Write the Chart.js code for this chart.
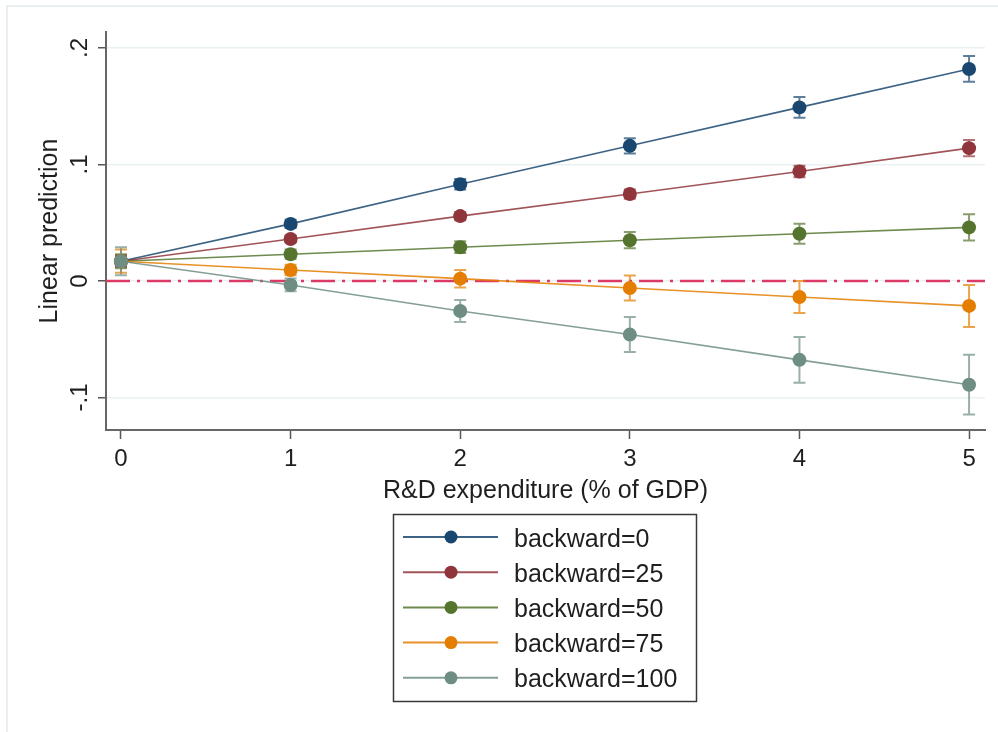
<!DOCTYPE html>
<html>
<head>
<meta charset="utf-8">
<title>Linear prediction by R&amp;D expenditure</title>
<script src="https://cdn.jsdelivr.net/npm/chart.js@4.4.1/dist/chart.umd.min.js"></script>
<style>
  html, body { margin: 0; padding: 0; background: #ffffff; }
  #chart { display: block; }
</style>
</head>
<body>
<canvas id="chart" width="998" height="732"></canvas>
<script>
// ============================================
// Margins plot — linear prediction vs R&D (Chart.js)
// ============================================

const xValues = [0, 1, 2, 3, 4, 5];
const xTickLabels = ['0', '1', '2', '3', '4', '5'];
const yTicks = [-0.1, 0, 0.1, 0.2];
const yTickLabels = ['-.1', '0', '.1', '.2'];
const seriesLabels = ['backward=0', 'backward=25', 'backward=50', 'backward=75', 'backward=100'];

// point estimates and half-width of the confidence interval
const back0 = [0.017, 0.049, 0.083, 0.116, 0.149, 0.182];
const back0Ci = [0.004, 0.0035, 0.0045, 0.0065, 0.009, 0.011];
const back25 = [0.017, 0.036, 0.0557, 0.0746, 0.094, 0.114];
const back25Ci = [0.005, 0.003, 0.0035, 0.004, 0.005, 0.007];
const back50 = [0.017, 0.023, 0.029, 0.035, 0.0405, 0.046];
const back50Ci = [0.006, 0.004, 0.005, 0.007, 0.0086, 0.0112];
const back75 = [0.017, 0.0094, 0.002, -0.006, -0.0137, -0.0214];
const back75Ci = [0.010, 0.0045, 0.0075, 0.0107, 0.0137, 0.018];
const back100 = [0.017, -0.0034, -0.0257, -0.046, -0.0677, -0.089];
const back100Ci = [0.012, 0.0055, 0.0094, 0.015, 0.0197, 0.0257];

const refLineValue = 0;

const seriesValues = [back0, back25, back50, back75, back100];
const seriesCi = [back0Ci, back25Ci, back50Ci, back75Ci, back100Ci];
const markerColors = ['#1a476f', '#90353b', '#55752f', '#e37e00', '#6e8e84'];
const lineColors = ['rgba(26,71,111,0.85)', 'rgba(144,53,59,0.85)', 'rgba(85,117,47,0.85)', 'rgba(227,126,0,0.85)', 'rgba(110,142,132,0.85)'];
const ciColors = ['rgba(26,71,111,0.7)', 'rgba(144,53,59,0.7)', 'rgba(85,117,47,0.7)', 'rgba(227,126,0,0.7)', 'rgba(110,142,132,0.7)'];

const FONT = "'Liberation Sans', Arial, Helvetica, sans-serif";
const TEXT = '#1f1f1f';

const stataDecor = {
  id: 'stataDecor',
  beforeDraw(chart) {
    const ctx = chart.ctx;
    ctx.save();
    ctx.strokeStyle = '#e9eff1';
    ctx.lineWidth = 2;
    ctx.beginPath();
    ctx.moveTo(7, 732);
    ctx.lineTo(7, 6);
    ctx.lineTo(998, 6);
    ctx.stroke();
    ctx.restore();
  },
  beforeDatasetsDraw(chart) {
    const ctx = chart.ctx;
    const area = chart.chartArea;
    const xs = chart.scales.x;
    const ys = chart.scales.y;

    // reference line at zero
    const y0 = ys.getPixelForValue(refLineValue);
    ctx.save();
    ctx.strokeStyle = '#dc3a66';
    ctx.lineWidth = 2.4;
    ctx.setLineDash([24, 7, 3, 7]);
    ctx.beginPath();
    ctx.moveTo(area.left, y0);
    ctx.lineTo(area.right, y0);
    ctx.stroke();
    ctx.restore();

    // confidence interval caps
    ctx.save();
    ctx.lineWidth = 2;
    seriesValues.forEach((vals, s) => {
      ctx.strokeStyle = ciColors[s];
      vals.forEach((v, i) => {
        const px = xs.getPixelForValue(xValues[i]);
        const top = ys.getPixelForValue(v + seriesCi[s][i]);
        const bot = ys.getPixelForValue(v - seriesCi[s][i]);
        ctx.beginPath();
        ctx.moveTo(px, top);
        ctx.lineTo(px, bot);
        ctx.moveTo(px - 6, top);
        ctx.lineTo(px + 6, top);
        ctx.moveTo(px - 6, bot);
        ctx.lineTo(px + 6, bot);
        ctx.stroke();
      });
    });
    ctx.restore();
  },
  afterDraw(chart) {
    const ctx = chart.ctx;
    const area = chart.chartArea;
    const xs = chart.scales.x;
    const ys = chart.scales.y;
    ctx.save();
    ctx.fillStyle = TEXT;

    // y tick labels, rotated like Stata
    ctx.font = '24px ' + FONT;
    ctx.textAlign = 'center';
    ctx.textBaseline = 'alphabetic';
    yTicks.forEach((t, i) => {
      ctx.save();
      ctx.translate(87, ys.getPixelForValue(t));
      ctx.rotate(-Math.PI / 2);
      ctx.fillText(yTickLabels[i], 0, 0);
      ctx.restore();
    });

    // x tick labels
    xValues.forEach((x, i) => {
      ctx.fillText(xTickLabels[i], xs.getPixelForValue(x), 466);
    });

    // axis titles
    ctx.font = '25px ' + FONT;
    ctx.save();
    ctx.translate(57, (area.top + area.bottom) / 2);
    ctx.rotate(-Math.PI / 2);
    ctx.fillText('Linear prediction', 0, 0);
    ctx.restore();
    ctx.fillText('R&D expenditure (% of GDP)', (area.left + area.right) / 2, 498);

    // legend box
    ctx.strokeStyle = '#3a3a3a';
    ctx.lineWidth = 1.5;
    ctx.strokeRect(393.5, 514.5, 303, 187);
    ctx.textAlign = 'left';
    seriesLabels.forEach((label, s) => {
      const ry = 537 + s * 35.2;
      ctx.strokeStyle = lineColors[s];
      ctx.lineWidth = 2;
      ctx.beginPath();
      ctx.moveTo(403, ry);
      ctx.lineTo(498, ry);
      ctx.stroke();
      ctx.fillStyle = markerColors[s];
      ctx.beginPath();
      ctx.arc(451, ry, 6.5, 0, Math.PI * 2);
      ctx.fill();
      ctx.fillStyle = TEXT;
      ctx.fillText(label, 514, ry + 9.5);
    });
    ctx.restore();
  }
};

const datasets = seriesLabels.map((label, s) => ({
  label: label,
  data: xValues.map((x, i) => ({ x: x, y: seriesValues[s][i] })),
  borderColor: lineColors[s],
  backgroundColor: markerColors[s],
  pointBackgroundColor: markerColors[s],
  pointBorderColor: markerColors[s],
  pointRadius: 7,
  pointBorderWidth: 0,
  borderWidth: 1.6,
  tension: 0,
  fill: false,
  clip: false,
  order: seriesLabels.length - s,
}));

new Chart(document.getElementById('chart').getContext('2d'), {
  type: 'line',
  data: { datasets: datasets },
  plugins: [stataDecor],
  options: {
    responsive: false,
    animation: false,
    events: [],
    layout: { padding: { top: 32, right: 13, bottom: 242, left: 0 } },
    plugins: {
      legend: { display: false },
      tooltip: { enabled: false },
    },
    scales: {
      x: {
        type: 'linear',
        min: -0.0884,
        max: 5.094,
        afterBuildTicks: (scale) => { scale.ticks = xValues.map(v => ({ value: v })); },
        afterFit: (scale) => { scale.height = 60; },
        ticks: { display: false },
        grid: {
          drawOnChartArea: false,
          drawTicks: true,
          tickLength: 9,
          tickColor: '#555555',
          tickWidth: 1.5,
        },
        border: { display: true, color: '#666666', width: 2 },
      },
      y: {
        type: 'linear',
        min: -0.1279,
        max: 0.2137,
        afterBuildTicks: (scale) => { scale.ticks = yTicks.map(v => ({ value: v })); },
        afterFit: (scale) => { scale.width = 106; },
        ticks: { display: false },
        grid: {
          color: '#eaf1f3',
          lineWidth: 1.5,
          drawTicks: true,
          tickLength: 8,
          tickColor: '#555555',
          tickWidth: 1.5,
        },
        border: { display: true, color: '#666666', width: 2 },
      }
    }
  }
});
</script>
</body>
</html>
